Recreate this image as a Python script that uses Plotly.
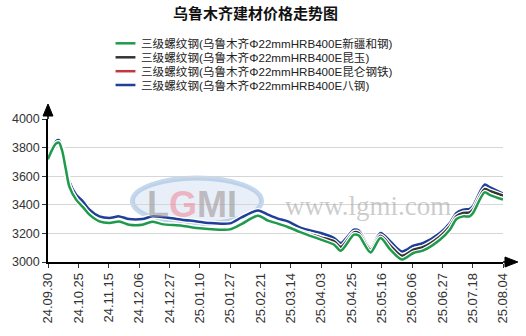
import plotly.graph_objects as go

# ---------------- data ----------------
tick_labels = ["24.09.30", "24.10.25", "24.11.15", "24.12.06", "24.12.27", "25.01.10",
               "25.01.27", "25.02.21", "25.03.14", "25.04.03", "25.04.25", "25.05.16",
               "25.06.06", "25.06.27", "25.07.18", "25.08.04"]
tick_step = 15  # trading days between labelled ticks

x_idx = [0, 2.2, 4.0, 5.4, 7.0, 8.8, 10.6, 13.9, 17.2, 20.5, 25.4, 30.3, 35.2, 40.1, 46.6, 51.5,
         56.4, 66.2, 73.6, 79.3, 89.9, 95.7, 103.9, 108.8, 113.7, 118.6, 125.1, 134.9,
         141.5, 144.8, 151.3, 153.7, 159.5, 164.4, 169.3, 175.0, 180.7, 185.6, 193.8,
         198.7, 202.0, 205.3, 208.5, 210.2, 215.9, 218.4, 225]

bagang = [3740, 3805, 3845, 3852, 3800, 3680, 3560, 3471, 3424, 3366, 3319, 3308, 3319, 3300, 3300, 3319,
          3315, 3296, 3284, 3273, 3270, 3312, 3361, 3331, 3303, 3284, 3238, 3203,
          3168, 3133, 3226, 3220, 3098, 3203, 3144, 3074, 3114, 3133, 3203,
          3273, 3343, 3366, 3371, 3394, 3541, 3524, 3478]

xinjiang = [3720, 3790, 3828, 3835, 3778, 3650, 3525, 3436, 3385, 3331, 3284, 3273, 3284, 3261, 3261, 3282,
            3265, 3254, 3238, 3231, 3228, 3265, 3324, 3289, 3268, 3245, 3207, 3156,
            3121, 3079, 3191, 3185, 3067, 3168, 3086, 3018, 3063, 3081, 3156,
            3226, 3301, 3319, 3319, 3343, 3487, 3470, 3436]

kunyu = [3720, 3790, 3828, 3835, 3778, 3650, 3525, 3436, 3385, 3331, 3284, 3273, 3284, 3261, 3261, 3282,
         3265, 3254, 3238, 3231, 3228, 3265, 3324, 3289, 3268, 3247, 3214, 3172,
         3144, 3105, 3207, 3202, 3086, 3184, 3115, 3044, 3086, 3105, 3179,
         3250, 3320, 3343, 3347, 3368, 3510, 3497, 3464]

kunlun = [3720, 3790, 3828, 3835, 3778, 3650, 3525, 3436, 3385, 3331, 3284, 3273, 3284, 3261, 3261, 3282,
          3265, 3254, 3238, 3231, 3228, 3265, 3324, 3289, 3268, 3247, 3214, 3172,
          3144, 3105, 3207, 3202, 3086, 3184, 3115, 3044, 3086, 3105, 3179,
          3250, 3320, 3343, 3347, 3368, 3510, 3497, 3464]

names = {
    "xinjiang": "三级螺纹钢(乌鲁木齐Φ22mmHRB400E新疆和钢)",
    "kunyu": "三级螺纹钢(乌鲁木齐Φ22mmHRB400E昆玉)",
    "kunlun": "三级螺纹钢(乌鲁木齐Φ22mmHRB400E昆仑钢铁)",
    "bagang": "三级螺纹钢(乌鲁木齐Φ22mmHRB400E八钢)",
}
colors = {"xinjiang": "#1f9a4c", "kunyu": "#333333", "kunlun": "#c0393b", "bagang": "#1f3f98"}
values = {"xinjiang": xinjiang, "kunyu": kunyu, "kunlun": kunlun, "bagang": bagang}
legend_order = ["xinjiang", "kunyu", "kunlun", "bagang"]
draw_order = ["kunlun", "bagang", "kunyu", "xinjiang"]

# ---------------- layout geometry ----------------
W, H = 526, 336
ML, MR, MT, MB = 45, 23, 119, 74
PW, PH = W - ML - MR, H - MT - MB


def xp(px):
    return (px - ML) / PW


def yp(py):
    return (H - MB - py) / PH


CJK = "Liberation Sans, Arial, Noto Sans CJK SC, sans-serif"

fig = go.Figure()
for key in draw_order:
    fig.add_trace(go.Scatter(x=x_idx, y=values[key], mode="lines", showlegend=False,
                             hoverinfo="skip",
                             line=dict(color="white", width=5, shape="spline", smoothing=0.8)))
    fig.add_trace(go.Scatter(x=x_idx, y=values[key], mode="lines", name=names[key],
                             showlegend=False,
                             line=dict(color=colors[key], width=2.5, shape="spline",
                                       smoothing=0.8)))

shapes = []
annotations = []

# watermark logo
shapes.append(dict(type="circle", xref="paper", yref="paper", layer="below",
                   x0=xp(130), x1=xp(260), y0=yp(224), y1=yp(178),
                   fillcolor="rgba(205,220,240,0.45)",
                   line=dict(color="rgba(160,190,225,0.6)", width=5)))
annotations.append(dict(xref="paper", yref="paper", x=xp(190), y=yp(204), showarrow=False,
                        xanchor="center", yanchor="middle",
                        text="<b><span style='color:rgba(150,150,150,0.6)'>L</span>"
                             "<span style='color:rgba(240,130,145,0.55)'>G</span>"
                             "<span style='color:rgba(160,150,155,0.6)'>M</span>"
                             "<span style='color:rgba(150,150,150,0.6)'>I</span></b>",
                        font=dict(family="Liberation Sans, Arial", size=36)))
annotations.append(dict(xref="paper", yref="paper", x=xp(367.5), y=yp(206), showarrow=False,
                        xanchor="center", yanchor="middle", text="www.lgmi.com",
                        font=dict(family="Liberation Serif, Times New Roman, serif", size=27,
                                  color="rgba(160,160,160,0.55)")))

# axis arrows
shapes.append(dict(type="line", xref="paper", yref="paper", x0=1, x1=xp(507), y0=0, y1=0,
                   line=dict(color="black", width=1.5)))
shapes.append(dict(type="path", xref="paper", yref="paper",
                   path=f"M {xp(505)},{yp(257)} L {xp(518)},{yp(262)} L {xp(505)},{yp(267)} Z",
                   fillcolor="black", line=dict(color="black", width=1)))
shapes.append(dict(type="line", xref="paper", yref="paper", x0=0, x1=0, y0=1, y1=yp(113),
                   line=dict(color="black", width=1.5)))
shapes.append(dict(type="path", xref="paper", yref="paper",
                   path=f"M {xp(40)},{yp(116)} L {xp(45)},{yp(104)} L {xp(50)},{yp(116)} Z",
                   fillcolor="black", line=dict(color="black", width=1)))

# manual legend
row_y = [43.3, 57.3, 71.2, 85.0]
for key, ry in zip(legend_order, row_y):
    shapes.append(dict(type="line", xref="paper", yref="paper", x0=xp(113), x1=xp(133),
                       y0=yp(ry), y1=yp(ry), line=dict(color=colors[key], width=2.5)))
    annotations.append(dict(xref="paper", yref="paper", x=xp(137), y=yp(ry), showarrow=False,
                            xanchor="left", yanchor="middle", text=names[key],
                            font=dict(family=CJK, size=11.6, color="#222222")))

fig.update_layout(
    width=W, height=H,
    margin=dict(l=ML, r=MR, t=MT, b=MB, pad=0),
    paper_bgcolor="white", plot_bgcolor="white",
    title=dict(text="<b>乌鲁木齐建材价格走势图</b>", x=255.5 / W, xanchor="center",
               y=1 - 14 / H, yanchor="middle",
               font=dict(family="Noto Sans CJK SC, sans-serif", size=15, color="#111111")),
    shapes=shapes, annotations=annotations,
    showlegend=False,
    xaxis=dict(range=[0, (len(tick_labels) - 1) * tick_step],
               tickmode="array",
               tickvals=[i * tick_step for i in range(len(tick_labels))],
               ticktext=tick_labels, tickangle=-90,
               ticks="outside", ticklen=4, tickcolor="#333333", tickwidth=1,
               showline=True, linecolor="black", linewidth=1.5,
               showgrid=False, zeroline=False,
               tickfont=dict(family="Liberation Sans, Arial", size=13, color="#333333")),
    yaxis=dict(range=[3000, 4000], tickmode="array",
               tickvals=[3000, 3200, 3400, 3600, 3800, 4000],
               ticktext=["3000", "3200", "3400", "3600", "3800", "4000"],
               ticks="outside", ticklen=4, tickcolor="#333333", tickwidth=1,
               showline=True, linecolor="black", linewidth=1.5,
               showgrid=True, gridcolor="#d6d6d6", gridwidth=1, zeroline=False,
               tickfont=dict(family="Liberation Sans, Arial", size=12.5, color="#333333")),
)

fig.write_html("out.html")
